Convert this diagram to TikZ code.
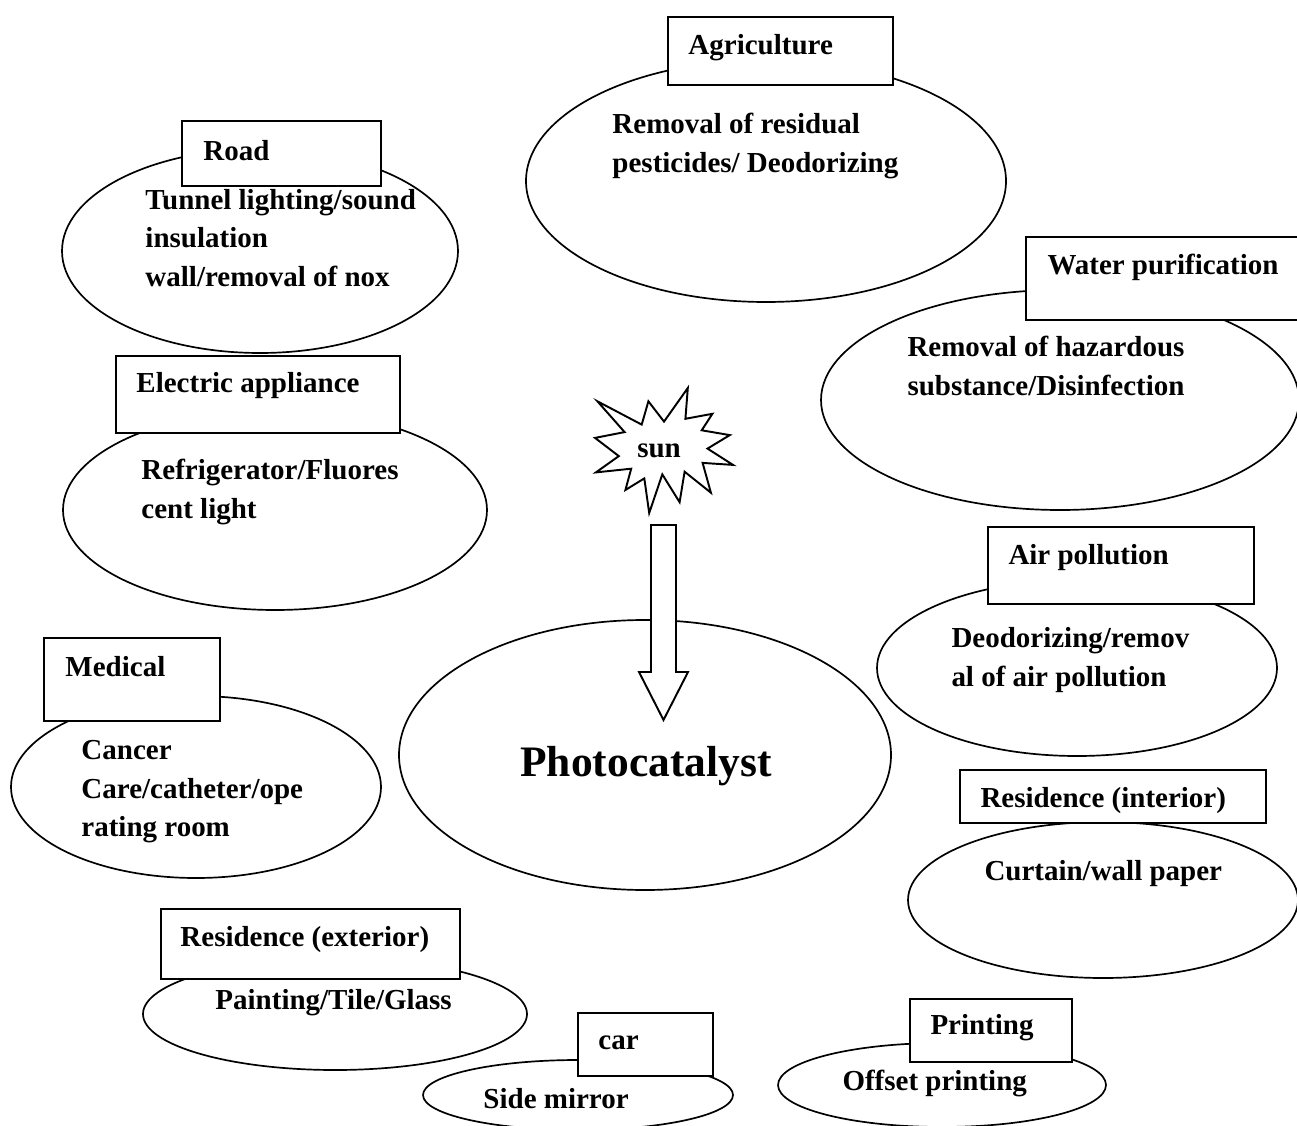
\documentclass[tikz,border=0pt]{standalone}
\usepackage{fontspec}
\setmainfont{Liberation Serif}
\usetikzlibrary{shapes.geometric}
\newcommand{\pxu}{0.414pt}

\begin{document}
\begin{tikzpicture}[
x=0.414pt, y=-0.414pt,
zone/.style={draw, ellipse, inner sep=0pt, line width=0.7pt},
tag/.style={draw, fill=white, rectangle,
anchor=north west, inner sep=0pt, line width=0.9pt},
lbl/.style={anchor=west, inner sep=0pt,
font=\fontsize{12}{15.9}\selectfont\bfseries},
note/.style={lbl, align=left},
burst/.style={draw, fill=white, line width=0.8pt, line join=miter},
beam/.style={draw, fill=white, line width=0.8pt}
]
\useasboundingbox (0,0) rectangle (1297,1126);

% application areas
\node[zone, minimum width=480*\pxu, minimum height=242*\pxu] (agri) at (766,181) {};
\node[zone, minimum width=396*\pxu, minimum height=204*\pxu] (road) at (260,251) {};
\node[zone, minimum width=424*\pxu, minimum height=200*\pxu] (elec) at (275,510) {};
\node[zone, minimum width=370*\pxu, minimum height=182*\pxu] (medi) at (196,787) {};
\node[zone, minimum width=478*\pxu, minimum height=220*\pxu] (water) at (1060,400) {};
\node[zone, minimum width=400*\pxu, minimum height=176*\pxu] (air) at (1077,668) {};
\node[zone, minimum width=390*\pxu, minimum height=156*\pxu] (resin) at (1103,900) {};
\node[zone, minimum width=384*\pxu, minimum height=112*\pxu] (resex) at (335,1014) {};
\node[zone, minimum width=310*\pxu, minimum height=70*\pxu] (car) at (578,1095) {};
\node[zone, minimum width=328*\pxu, minimum height=84*\pxu] (print) at (942,1085) {};
\node[zone, minimum width=492*\pxu, minimum height=270*\pxu] (photo) at (645,755) {};

% title boxes
\node[tag, minimum width=225*\pxu, minimum height=68*\pxu] (agritag) at (667,16) {};
\node[tag, minimum width=199*\pxu, minimum height=65*\pxu] (roadtag) at (181,120) {};
\node[tag, minimum width=284*\pxu, minimum height=77*\pxu] (electag) at (115,355) {};
\node[tag, minimum width=176*\pxu, minimum height=83*\pxu] (meditag) at (43,637) {};
\node[tag, minimum width=285*\pxu, minimum height=83*\pxu] (watertag) at (1025,236) {};
\node[tag, minimum width=266*\pxu, minimum height=77*\pxu] (airtag) at (987,526) {};
\node[tag, minimum width=306*\pxu, minimum height=53*\pxu] (resintag) at (959,769) {};
\node[tag, minimum width=299*\pxu, minimum height=70*\pxu] (resextag) at (160,908) {};
\node[tag, minimum width=135*\pxu, minimum height=63*\pxu] (cartag) at (577,1012) {};
\node[tag, minimum width=162*\pxu, minimum height=63*\pxu] (printtag) at (909,998) {};

\node[lbl] (agrilbl) at (688,48) {Agriculture};
\node[lbl] (roadlbl) at (203,151) {Road};
\node[lbl] (eleclbl) at (136,386) {Electric appliance};
\node[lbl] (medilbl) at (65,667) {Medical};
\node[lbl] (waterlbl) at (1047,267) {Water purification};
\node[lbl] (airlbl) at (1008,558) {Air pollution};
\node[lbl] (resinlbl) at (980,801) {Residence (interior)};
\node[lbl] (resexlbl) at (180,940) {Residence (exterior)};
\node[lbl] (carlbl) at (598,1043) {car};
\node[lbl] (printlbl) at (930,1028) {Printing};

% uses
\node[note] (agritxt) at (612,146) {Removal of residual\\pesticides/ Deodorizing};
\node[note] (roadtxt) at (145,238) {Tunnel lighting/sound\\insulation\\wall/removal of nox};
\node[note] (electxt) at (141,492) {Refrigerator/Fluores\\cent light};
\node[note] (meditxt) at (81,792) {Cancer\\Care/catheter/ope\\rating room};
\node[note] (watertxt) at (907,366) {Removal of hazardous\\substance/Disinfection};
\node[note] (airtxt) at (951,660) {Deodorizing/remov\\al of air pollution};
\node[note] (resintxt) at (984,874) {Curtain/wall paper};
\node[note] (resextxt) at (215,1003) {Painting/Tile/Glass};
\node[note] (cartxt) at (483,1099) {Side mirror};
\node[note] (printtxt) at (842,1083) {Offset printing};

% sun and light
\draw[burst] (664.0,421.6) -- (687.8,388) -- (685.4,418.8) -- (712.4,413.8)
 -- (701.7,430.3) -- (729.8,435.1) -- (707.5,448.6) -- (733,464.9)
 -- (702.6,462.9) -- (710.9,492.7) -- (684.6,471.7) -- (679.6,502.2)
 -- (662.3,474.4) -- (649.2,513) -- (644.3,478.4) -- (625.4,490)
 -- (631.2,468.7) -- (595.9,472.4) -- (618.8,456.1) -- (595,437.9)
 -- (624.6,432.1) -- (597.4,401.3) -- (641.7,424.6) -- (648.4,401.3) -- cycle;
\node[lbl, anchor=center] (sun) at (659,451) {sun};

\coordinate (beamtop) at (663.5,525);
\coordinate (beamtip) at (663.5,720);
\draw[beam] (beamtop) ++(-12.5,0) -- ++(25,0) -- ++(0,147) -- ++(12,0)
 -- (beamtip) -- ++(-24.5,-48) -- ++(12,0) -- cycle;

\node[inner sep=0pt, font=\fontsize{18}{22}\selectfont\bfseries] (photolbl) at (646,766) {Photocatalyst};

\end{tikzpicture}
\end{document}
